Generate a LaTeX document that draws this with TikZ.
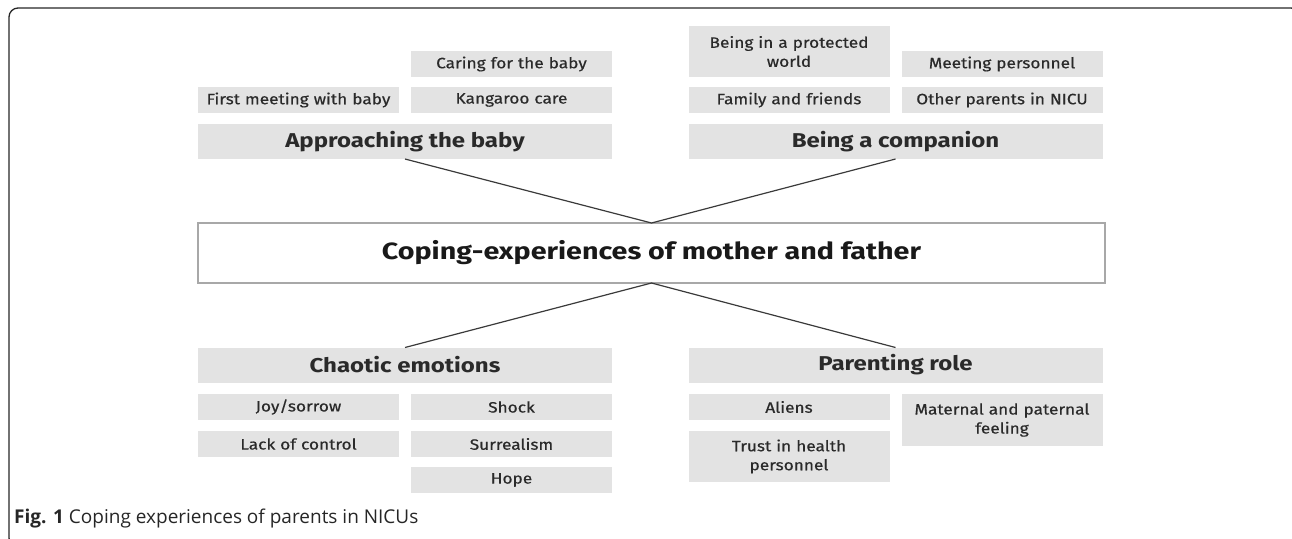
\documentclass[tikz,border=0pt]{standalone}
\usepackage{fontspec}
\setsansfont{Fira Sans}
\newfontfamily\boxfont[FakeBold=0.5, FakeStretch=1.15]{Fira Sans}
\newfontfamily\headfont[FakeStretch=1.2]{Fira Sans}
\newfontfamily\corefont[FakeStretch=1.22]{Fira Sans}
\newfontfamily\capfont{Open Sans}
\usetikzlibrary{positioning}

\definecolor{boxgray}{HTML}{E3E3E3}
\definecolor{txtgray}{HTML}{2A2A2A}
\definecolor{rimgray}{HTML}{A8A8A8}
\definecolor{linegray}{HTML}{3A3A3A}

\tikzset{
  subbox/.style={fill=boxgray, text=txtgray, inner sep=2pt, outer sep=0pt,
    minimum width=201pt, minimum height=26pt, text width=196pt, align=center,
    font=\boxfont\fontsize{15}{19}\selectfont},
  headbox/.style={fill=boxgray, text=txtgray, inner sep=0pt, outer sep=0pt,
    minimum width=414pt, minimum height=35pt,
    font=\headfont\bfseries\fontsize{20}{23}\selectfont},
  corebox/.style={draw=rimgray, line width=1.5pt, fill=white, text=black!90,
    inner sep=0pt, outer sep=0pt, minimum width=907pt, minimum height=60pt,
    font=\corefont\bfseries\fontsize{23.5}{27}\selectfont},
  link/.style={draw=linegray, line width=1.2pt},
  frame/.style={draw=black!85, line width=1.3pt, rounded corners=9pt},
  caption/.style={inner sep=0pt, text=black!85, font=\capfont\fontsize{19}{22}\selectfont},
}

\begin{document}
\begin{tikzpicture}[x=1pt, y=1pt]
  \useasboundingbox (0,0) rectangle (1292,-538);
  \clip (0,0) rectangle (1292,-538);
  \draw[frame] (9,-8) rectangle (1300,-547);

  % Define nodes
  \node[corebox] (core) at (651.5,-253) {Coping-experiences of mother and father};

  \node[headbox] (approach) at (405,-141.5) {Approaching the baby};
  \node[subbox, above=11pt of approach.north west, anchor=south west] (firstmeet) {First meeting with baby};
  \node[subbox, right=12pt of firstmeet] (kangaroo) {Kangaroo care};
  \node[subbox, above=10pt of kangaroo] (caring) {Caring for the baby};

  \node[headbox] (companion) at (895.5,-141.5) {Being a companion};
  \node[subbox, above=11pt of companion.north west, anchor=south west] (family) {Family and friends};
  \node[subbox, right=12pt of family] (otherpar) {Other parents in NICU};
  \node[subbox, above=10pt of otherpar] (meetpers) {Meeting personnel};
  \node[subbox, above=10pt of family, minimum height=51pt] (protected) {Being in a protected\\world};

  \node[headbox] (chaotic) at (405,-365) {Chaotic emotions};
  \node[subbox, below=11.5pt of chaotic.south west, anchor=north west] (joy) {Joy/sorrow};
  \node[subbox, right=12pt of joy] (shock) {Shock};
  \node[subbox, below=11pt of joy] (lack) {Lack of control};
  \node[subbox, below=11pt of shock] (surreal) {Surrealism};
  \node[subbox, below=10pt of surreal] (hope) {Hope};

  \node[headbox] (parenting) at (895.5,-365) {Parenting role};
  \node[subbox, below=11.5pt of parenting.south west, anchor=north west] (aliens) {Aliens};
  \node[subbox, right=12pt of aliens.north east, anchor=north west, minimum height=52pt] (maternal) {Maternal and paternal\\feeling};
  \node[subbox, below=11pt of aliens, minimum height=51pt] (trust) {Trust in health\\personnel};

  \node[caption, anchor=base west] (fig) at (14,-523) {{\bfseries Fig. 1} Coping experiences of parents in NICUs};

  % Connect the nodes
  \draw[link] (approach.south) -- (core.north) -- (companion.south);
  \draw[link] (chaotic.north) -- (core.south) -- (parenting.north);
\end{tikzpicture}
\end{document}
